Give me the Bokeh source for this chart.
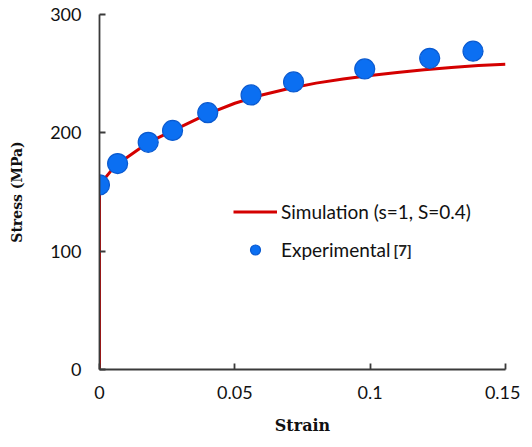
from bokeh.plotting import figure
from bokeh.models import Range1d, Legend, LegendItem, Label, FixedTicker
from bokeh.embed import file_html
from bokeh.resources import INLINE

# Simulation curve (s=1, S=0.4)
sim_strain = [0, 0, 0.0025, 0.005, 0.01, 0.015, 0.02, 0.03, 0.04, 0.05, 0.06,
              0.07, 0.08, 0.09, 0.10, 0.11, 0.12, 0.13, 0.14, 0.15]
sim_stress = [0, 156, 163, 170, 179, 187, 194, 205, 216, 225, 232,
              237.5, 242, 245.5, 248.5, 251, 253.3, 255.3, 256.8, 258]

# Experimental [7]
exp_strain = [0, 0.0067, 0.018, 0.027, 0.040, 0.056, 0.0717, 0.098, 0.122, 0.138]
exp_stress = [156, 174, 192, 202, 217, 232, 243, 254, 263, 269]

x_ticks = [0, 0.05, 0.1, 0.15]
x_tick_labels = ["0", "0.05", "0.1", "0.15"]
y_ticks = [0, 100, 200, 300]

p = figure(width=520, height=438, output_backend="svg", toolbar_location=None,
           x_range=Range1d(0, 0.15), y_range=Range1d(0, 300),
           min_border_left=99, min_border_right=15, min_border_top=14, min_border_bottom=69)
p.outline_line_color = None
p.grid.visible = False
p.background_fill_color = "white"

axis_color = "#3a3a3a"
for ax in (p.xaxis[0], p.yaxis[0]):
    ax.axis_line_color = axis_color
    ax.axis_line_width = 1.8
    ax.major_tick_line_color = axis_color
    ax.major_tick_line_width = 1.8
    ax.major_tick_in = 6
    ax.major_tick_out = 0
    ax.minor_tick_line_color = None
    ax.major_label_text_font = "Lato"
    ax.major_label_text_font_size = "18px"
    ax.major_label_text_color = "#111111"
    ax.axis_label_text_font = "DejaVu Serif"
    ax.axis_label_text_font_style = "bold"
    ax.axis_label_text_color = "#111111"

p.xaxis.ticker = FixedTicker(ticks=x_ticks)
p.xaxis.major_label_overrides = {t: l for t, l in zip(x_ticks, x_tick_labels)}
p.yaxis.ticker = FixedTicker(ticks=y_ticks)
p.xaxis.axis_label = "Strain"
p.yaxis.axis_label = "Stress (MPa)"
p.xaxis.axis_label_text_font_size = "16px"
p.yaxis.axis_label_text_font_size = "14px"
p.xaxis.major_label_standoff = 16
p.xaxis.axis_label_standoff = 14
p.yaxis.major_label_standoff = 18
p.yaxis.axis_label_standoff = 22

sim = p.line(sim_strain, sim_stress, line_color="#d40000", line_width=3)
exp = p.scatter(exp_strain, exp_stress, size=20, fill_color="#0b6ff2",
                line_color="#0a5ad0", line_width=1.2)

legend = Legend(items=[LegendItem(label="Simulation (s=1, S=0.4)", renderers=[sim]),
                       LegendItem(label="Experimental", renderers=[exp])],
                location=(134, 107), padding=0, margin=0, spacing=13,
                glyph_width=44, glyph_height=25, label_height=25, label_standoff=4,
                border_line_color=None, background_fill_alpha=0,
                label_text_font="Lato", label_text_font_size="19px",
                label_text_color="#111111")
p.add_layout(legend, "center")

ref = Label(x=294, y=120, x_units="screen", y_units="screen", text="[7]",
            text_font="Lato", text_font_style="bold", text_font_size="15px",
            text_color="#222222", text_baseline="middle")
p.add_layout(ref)

open("out.html", "w").write(file_html(p, INLINE))
